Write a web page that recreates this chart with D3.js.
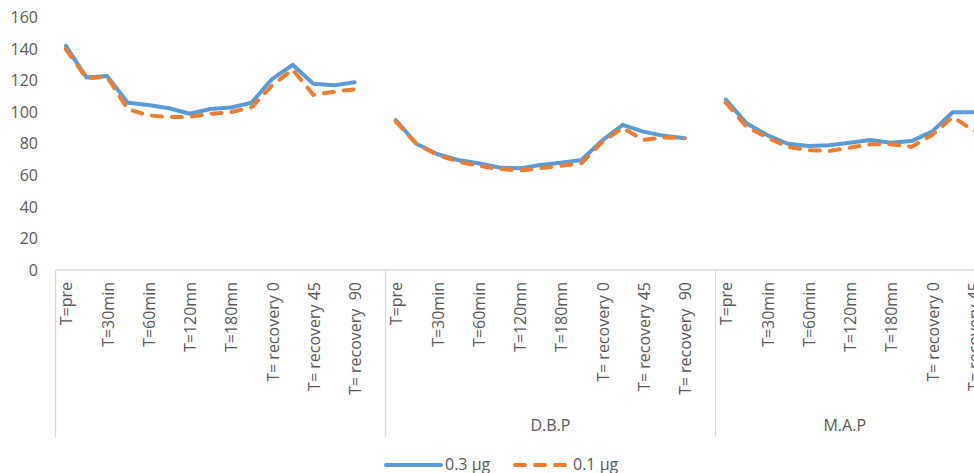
<!DOCTYPE html>
<html><head><meta charset="utf-8">
<script src="https://cdn.jsdelivr.net/npm/d3@7"></script>
<style>
html,body{margin:0;padding:0;background:#fff;overflow:hidden}
text{font-family:"Open Sans",sans-serif;fill:#595959;white-space:pre}
</style></head>
<body><svg id="c" width="974" height="473"></svg>
<script>
const groups = ["", "D.B.P", "M.A.P"];
const categories = ["T=pre","T=15min","T=30min","T=45min","T=60min","T=90min","T=120mn","T=150mn","T=180mn","T=240mn","T= recovery 0","T= recovery 15","T= recovery 45","T= recovery 60","T= recovery  90",""];
const shownLabels = ["T=pre","T=30min","T=60min","T=120mn","T=180mn","T= recovery 0","T= recovery 45","T= recovery  90"];
const yTicks = [0,20,40,60,80,100,120,140,160];
const seriesNames = ["0.3 µg","0.1 µg"];
// values per group (16 categories, last blank)
const dose03 = [
  [142,122,123,106,104.5,102.5,99,102,103,106,121,130,118,117,119,null],
  [95,80,73.5,69.7,67.6,65,64.4,66.5,68,69.7,82,92,87.7,85,83.5,null],
  [108,93,85.5,80,78.6,79,80.7,82.4,80.7,81.7,87.7,100,100,100,99,null]
];
const dose01 = [
  [140,121.5,122.5,102,98,97,97,99,100,103,117,127,111,113,114.5,null],
  [94,80,73,68.7,66,64,63,64.5,66,67.6,81,90,82.4,84,83.5,null],
  [106,90.8,84,78,76,75.4,77.5,79.7,79.7,78,85.5,97,88.5,85,84,null]
];

const svg = d3.select("#c");
const left = 55.5, groupW = 330, axisY = 270, topY = 17.5;
const keys = [];
groups.forEach((g,gi)=>categories.forEach((c,ci)=>keys.push(gi+"|"+ci)));
const x = d3.scaleBand().domain(keys).range([left, left + groupW*groups.length]).padding(0);
const y = d3.scaleLinear().domain([0,160]).range([axisY, topY]);

// y axis labels
const ya = svg.append("g").attr("transform","translate(38,0)")
  .call(d3.axisLeft(y).tickValues(yTicks).tickSize(0).tickPadding(0));
ya.select(".domain").remove();
ya.selectAll("text").style("font-family","'Open Sans',sans-serif").style("font-size","16px").attr("fill","#595959");

// category axis
const axisColor = "#d9d9d9";
svg.append("line").attr("x1",left).attr("x2",left+groupW*groups.length).attr("y1",axisY).attr("y2",axisY)
  .attr("stroke",axisColor).attr("stroke-width",1.3);
groups.forEach((g,gi)=>{
  const gx = x(gi+"|0");
  svg.append("line").attr("x1",gx).attr("x2",gx).attr("y1",axisY).attr("y2",437)
    .attr("stroke",axisColor).attr("stroke-width",1.3);
  categories.forEach((c,ci)=>{
    if(!shownLabels.includes(c)) return;
    const cx = x(gi+"|"+ci) + x.bandwidth()/2;
    svg.append("text").attr("transform",`translate(${cx+1},282) rotate(-90)`)
      .attr("text-anchor","end").attr("dy","0.35em").style("font-size","16px").text(c);
  });
  const visEnd = Math.min(974, gx+groupW);
  svg.append("text").attr("x",(gx+visEnd)/2).attr("y",431).attr("text-anchor","middle")
    .style("font-size","16px").text(g);
});
const gxEnd = left+groupW*groups.length;
svg.append("line").attr("x1",gxEnd).attr("x2",gxEnd).attr("y1",axisY).attr("y2",437)
  .attr("stroke",axisColor).attr("stroke-width",1.3);

// lines
const line = d3.line().defined(d=>d.v!=null).x(d=>x(d.k)+x.bandwidth()/2).y(d=>y(d.v));
function flat(arr){const out=[];arr.forEach((g,gi)=>g.forEach((v,ci)=>out.push({k:gi+"|"+ci,v})));return out;}
svg.append("path").datum(flat(dose03)).attr("d",line).attr("fill","none")
  .attr("stroke","#5B9BD5").attr("stroke-width",4).attr("stroke-linejoin","round").attr("stroke-linecap","round");
svg.append("path").datum(flat(dose01)).attr("d",line).attr("fill","none")
  .attr("stroke","#ED7D31").attr("stroke-width",4).attr("stroke-dasharray","10,10").attr("stroke-linecap","round");

// legend
const ly = 464;
svg.append("line").attr("x1",386).attr("x2",441).attr("y1",ly+1).attr("y2",ly+1)
  .attr("stroke","#5B9BD5").attr("stroke-width",4).attr("stroke-linecap","round");
svg.append("text").attr("x",445).attr("y",ly).attr("dy","0.35em").style("font-size","16px").text(seriesNames[0]);
svg.append("line").attr("x1",515).attr("x2",569).attr("y1",ly+1).attr("y2",ly+1)
  .attr("stroke","#ED7D31").attr("stroke-width",4).attr("stroke-dasharray","10,10").attr("stroke-linecap","round");
svg.append("text").attr("x",573).attr("y",ly).attr("dy","0.35em").style("font-size","16px").text(seriesNames[1]);
</script></body></html>
